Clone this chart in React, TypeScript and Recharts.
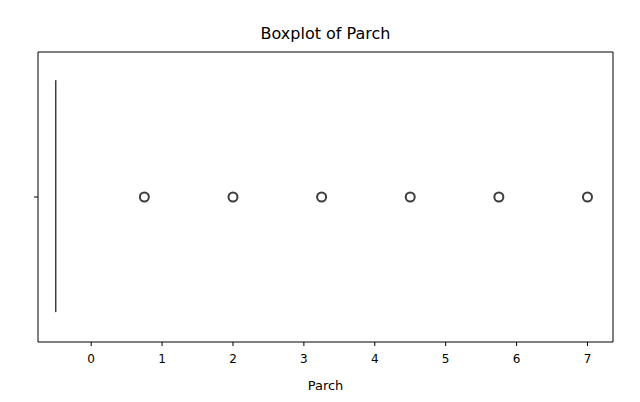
import React from 'react';
import { ComposedChart, Scatter, XAxis, YAxis, ReferenceLine } from 'recharts';

const boxX = -0.5;
const whiskerLow = 0.103;
const whiskerHigh = 0.903;
const outlierX = [0.75, 2, 3.25, 4.5, 5.75, 7];
const xTicks = [0, 1, 2, 3, 4, 5, 6, 7];

const outliers = outlierX.map((x) => ({ x, y: 0.5 }));

const Ring = (props: any) => (
  <circle cx={props.cx} cy={props.cy} r={4.5} fill="none" stroke="#3d3d3d" strokeWidth={2} />
);

export default function App() {
  return (
    <div style={{ position: 'absolute', left: 0, top: 0, width: 640, height: 402, background: '#fff', fontFamily: 'DejaVu Sans' }}>
      <div style={{ position: 'absolute', top: 24, left: 38, width: 575, textAlign: 'center', fontSize: 16, color: '#000' }}>
        Boxplot of Parch
      </div>
      <ComposedChart width={640} height={402} margin={{ top: 52, right: 27, bottom: 12, left: 0 }}>
        <XAxis
          type="number"
          dataKey="x"
          domain={[-0.75, 7.36]}
          ticks={xTicks}
          allowDataOverflow
          stroke="#000"
          tick={{ fill: '#000', fontSize: 12, dy: 6 }}
          tickSize={4}
          height={48}
          label={{ value: 'Parch', position: 'insideBottom', offset: 0, fill: '#000', fontSize: 13 }}
        />
        <YAxis
          type="number"
          dataKey="y"
          domain={[0, 1]}
          ticks={[0.5]}
          tickFormatter={() => ''}
          stroke="#000"
          tickSize={4}
          width={38}
        />
        <ReferenceLine x={7.36} stroke="#000" />
        <ReferenceLine y={1} stroke="#000" />
        <ReferenceLine segment={[{ x: boxX, y: whiskerLow }, { x: boxX, y: whiskerHigh }]} stroke="#3d3d3d" strokeWidth={1.5} />
        <Scatter data={outliers} shape={<Ring />} isAnimationActive={false} />
      </ComposedChart>
    </div>
  );
}
